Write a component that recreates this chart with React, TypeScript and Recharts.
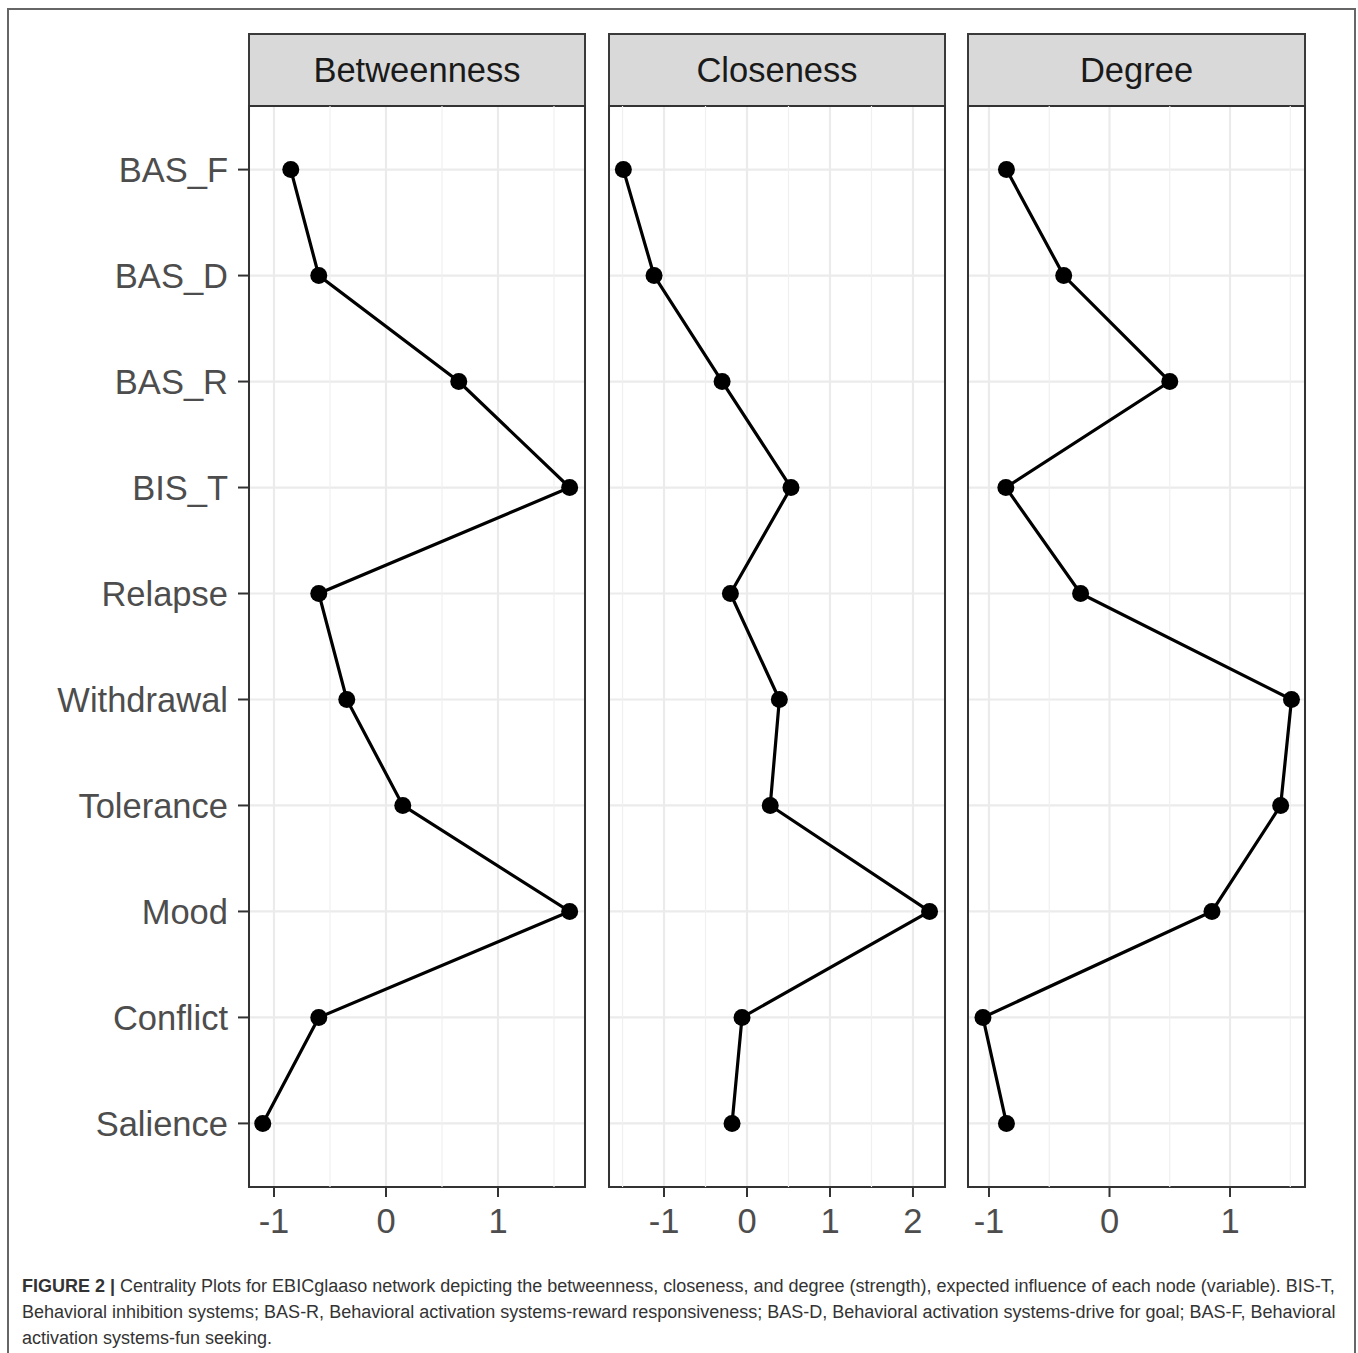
import {
  ScatterChart,
  Scatter,
  XAxis,
  YAxis,
  CartesianGrid,
  ReferenceLine,
  ReferenceArea,
} from "recharts";

const nodes = ["BAS_F", "BAS_D", "BAS_R", "BIS_T", "Relapse", "Withdrawal", "Tolerance", "Mood", "Conflict", "Salience"];

const betweenness = [-0.85, -0.6, 0.65, 1.64, -0.6, -0.35, 0.15, 1.64, -0.6, -1.1];
const closeness = [-1.49, -1.12, -0.3, 0.53, -0.2, 0.39, 0.28, 2.2, -0.06, -0.18];
const degree = [-0.855, -0.38, 0.5, -0.86, -0.24, 1.51, 1.42, 0.85, -1.05, -0.855];

const betweennessTicks = [-1, 0, 1];
const betweennessMinor = [-0.5, 0.5, 1.5];
const closenessTicks = [-1, 0, 1, 2];
const closenessMinor = [-1.5, -0.5, 0.5, 1.5];
const degreeTicks = [-1, 0, 1];
const degreeMinor = [-0.5, 0.5, 1.5];

const yTicks = [1, 2, 3, 4, 5, 6, 7, 8, 9, 10];

const font = "'Liberation Sans', Arial, sans-serif";
const tickStyle = { fill: "#4d4d4d", fontSize: 34.5, fontFamily: font };

const dot = (p: any) => <circle cx={p.cx} cy={p.cy} r={8.5} fill="#000" />;

interface PanelProps {
  title: string;
  values: number[];
  domain: [number, number];
  ticks: number[];
  minor: number[];
  left: number;
  width: number;
  marginLeft: number;
  showY?: boolean;
}

function Panel({ title, values, domain, ticks, minor, left, width, marginLeft, showY }: PanelProps) {
  const data = values.map((v, i) => ({ x: v, y: i + 1, node: nodes[i] }));
  const yWidth = showY ? 249 : 0;
  const plotLeft = left + marginLeft + yWidth;
  const plotWidth = width - marginLeft - yWidth - 20;
  return (
    <>
      <div
        style={{
          position: "absolute",
          left: plotLeft - 1,
          top: 33,
          width: plotWidth + 2,
          height: 74,
          boxSizing: "border-box",
          border: "2px solid #3a3a3a",
          background: "#d9d9d9",
          color: "#1a1a1a",
          fontFamily: font,
          fontSize: 34.5,
          lineHeight: "70px",
          textAlign: "center",
        }}
      >
        {title}
      </div>
      <div style={{ position: "absolute", left, top: 0 }}>
        <ScatterChart
          width={width}
          height={1250}
          margin={{ top: 106, right: 20, bottom: 13, left: marginLeft }}
        >
          <CartesianGrid stroke="#ebebeb" strokeWidth={2.2} />
          {minor.map((m) => (
            <ReferenceLine key={m} x={m} stroke="#f0f0f0" strokeWidth={1.2} />
          ))}
          <XAxis
            type="number"
            dataKey="x"
            domain={domain}
            allowDataOverflow
            ticks={ticks}
            interval={0}
            axisLine={false}
            tickLine={{ stroke: "#333", strokeWidth: 2 }}
            tickSize={10}
            tickMargin={12}
            height={50}
            tick={tickStyle}
          />
          <YAxis
            type="number"
            dataKey="y"
            domain={[0.4, 10.6]}
            allowDataOverflow
            reversed
            ticks={yTicks}
            interval={0}
            hide={!showY}
            width={yWidth}
            axisLine={false}
            tickLine={{ stroke: "#333", strokeWidth: 2 }}
            tickSize={11}
            tickMargin={10}
            tick={tickStyle}
            tickFormatter={(v: number) => nodes[v - 1] ?? ""}
          />
          <ReferenceArea
            x1={domain[0]}
            x2={domain[1]}
            y1={0.4}
            y2={10.6}
            fill="none"
            fillOpacity={0}
            stroke="#333"
            strokeWidth={2}
            ifOverflow="visible"
          />
          <Scatter
            data={data}
            line={{ stroke: "#000", strokeWidth: 3.2 }}
            lineType="joint"
            shape={dot}
            isAnimationActive={false}
          />
        </ScatterChart>
      </div>
    </>
  );
}

export default function App() {
  return (
    <div style={{ position: "relative", width: 1358, height: 1353, overflow: "hidden", background: "#fff" }}>
      <style>{"html,body{margin:0;overflow:hidden;}"}</style>
      <div
        style={{
          position: "absolute",
          left: 7,
          top: 8,
          width: 1349,
          height: 1360,
          boxSizing: "border-box",
          border: "2px solid #666",
        }}
      />
      <Panel
        title="Betweenness"
        values={betweenness}
        domain={[-1.223, 1.777]}
        ticks={betweennessTicks}
        minor={betweennessMinor}
        left={0}
        width={605}
        marginLeft={0}
        showY
      />
      <Panel
        title="Closeness"
        values={closeness}
        domain={[-1.663, 2.386]}
        ticks={closenessTicks}
        minor={closenessMinor}
        left={595}
        width={370}
        marginLeft={14}
      />
      <Panel
        title="Degree"
        values={degree}
        domain={[-1.174, 1.622]}
        ticks={degreeTicks}
        minor={degreeMinor}
        left={955}
        width={370}
        marginLeft={13}
      />
      <div
        style={{
          position: "absolute",
          left: 22,
          top: 1273,
          fontFamily: font,
          fontSize: 18,
          lineHeight: "26px",
          color: "#333",
          whiteSpace: "nowrap",
        }}
      >
        <div>
          <b>FIGURE 2 |</b> Centrality Plots for EBICglaaso network depicting the betweenness, closeness, and degree
          (strength), expected influence of each node (variable). BIS-T,
        </div>
        <div>
          Behavioral inhibition systems; BAS-R, Behavioral activation systems-reward responsiveness; BAS-D, Behavioral
          activation systems-drive for goal; BAS-F, Behavioral
        </div>
        <div>activation systems-fun seeking.</div>
      </div>
    </div>
  );
}
